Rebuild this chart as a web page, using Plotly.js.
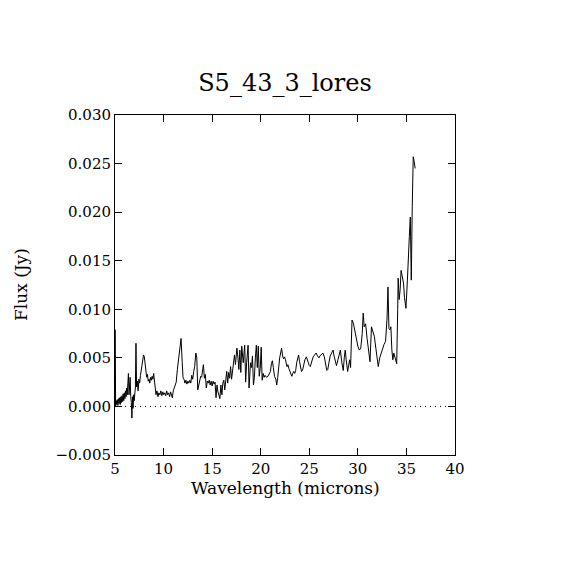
<!DOCTYPE html>
<html>
<head>
<meta charset="utf-8">
<script src="https://cdn.plot.ly/plotly-3.0.1.min.js"></script>
<style>html,body{margin:0;padding:0;background:#fff;}#chart{width:570px;height:570px;}</style>
</head>
<body>
<div id="chart"></div>
<script>
const wavelength = [
5.03,5.06,5.12,5.18,5.24,5.30,5.36,5.42,5.48,5.54,5.60,5.66,5.72,5.78,5.84,5.90,5.96,6.02,6.08,6.14,
6.20,6.26,6.32,6.38,6.44,6.50,6.56,6.62,6.68,6.74,6.80,6.86,6.92,6.98,7.04,7.10,7.16,7.22,7.30,7.38,
7.46,7.54,7.62,7.70,7.78,7.86,7.94,8.02,8.10,8.18,8.26,8.34,8.42,8.50,8.58,8.66,8.74,8.82,8.90,8.98,
9.06,9.14,9.22,9.32,9.42,9.52,9.62,9.72,9.82,9.92,10.02,10.12,10.22,10.32,10.42,10.52,10.62,10.72,10.82,10.90,
11.00,11.10,11.20,11.30,11.42,11.55,11.68,11.80,11.92,12.00,12.10,12.20,12.30,12.40,12.50,12.60,12.70,12.80,12.90,13.00,
13.10,13.20,13.32,13.42,13.52,13.62,13.72,13.82,13.92,14.02,14.10,14.20,14.30,14.40,14.50,14.60,14.70,14.80,14.90,15.00,
15.10,15.20,15.30,15.40,15.50,15.60,15.70,15.80,15.90,16.00,16.10,16.20,16.30,16.40,16.50,16.60,16.70,16.80,16.90,17.00,
17.15,17.30,17.40,17.55,17.65,17.75,17.85,17.95,18.05,18.20,18.35,18.45,18.55,18.70,18.80,18.95,19.05,19.15,19.25,19.35,
19.45,19.55,19.65,19.75,19.85,19.95,20.05,20.15,20.25,20.35,20.45,20.60,20.75,20.90,21.00,21.10,21.20,21.30,21.42,21.55,
21.65,21.75,21.85,21.95,22.05,22.15,22.25,22.35,22.45,22.55,22.70,22.80,22.90,23.00,23.10,23.20,23.30,23.40,23.50,23.60,
23.70,23.80,23.90,24.00,24.10,24.20,24.30,24.40,24.55,24.70,24.85,25.00,25.10,25.20,25.30,25.40,25.55,25.70,25.85,26.00,
26.10,26.25,26.40,26.55,26.70,26.80,26.90,27.00,27.15,27.30,27.45,27.55,27.70,27.80,27.95,28.10,28.20,28.35,28.50,28.60,
28.70,28.80,28.95,29.05,29.15,29.25,29.40,29.55,29.70,29.85,30.00,30.15,30.30,30.45,30.55,30.65,30.80,30.95,31.10,31.25,
31.40,31.55,31.70,31.85,32.00,32.10,32.25,32.40,32.55,32.70,32.85,33.00,33.10,33.20,33.30,33.40,33.50,33.60,33.70,33.85,
34.00,34.10,34.15,34.25,34.35,34.45,34.55,34.70,34.80,34.95,35.10,35.20,35.30,35.40,35.45,35.50,35.60,35.70,35.80,35.90
];
const flux = [
0.0079,0.0000,0.0006,0.0002,0.0007,0.0001,0.0008,0.0003,0.0009,0.0002,0.0010,0.0004,0.0011,0.0005,0.0013,0.0006,0.0014,0.0008,0.0016,0.0010,
0.0019,0.0012,0.0022,0.0034,0.0012,0.0024,0.0030,0.0010,0.0004,-0.0012,0.0010,-0.0002,0.0012,0.0006,0.0015,0.0020,0.0065,0.0020,0.0026,0.0016,
0.0028,0.0024,0.0032,0.0038,0.0046,0.0050,0.0053,0.0051,0.0042,0.0036,0.0030,0.0033,0.0026,0.0028,0.0024,0.0030,0.0027,0.0031,0.0028,0.0034,
0.0026,0.0015,0.0012,0.0016,0.0010,0.0014,0.0012,0.0016,0.0011,0.0015,0.0012,0.0014,0.0011,0.0016,0.0012,0.0014,0.0010,0.0015,0.0012,0.0009,
0.0016,0.0020,0.0024,0.0025,0.0038,0.0050,0.0065,0.0070,0.0045,0.0030,0.0028,0.0024,0.0027,0.0023,0.0026,0.0024,0.0027,0.0024,0.0032,0.0028,
0.0036,0.0041,0.0055,0.0050,0.0017,0.0022,0.0025,0.0031,0.0030,0.0040,0.0043,0.0029,0.0033,0.0019,0.0026,0.0024,0.0027,0.0022,0.0026,0.0021,
0.0026,0.0023,0.0025,0.0009,0.0022,0.0015,0.0011,0.0008,0.0022,0.0012,0.0024,0.0027,0.0017,0.0030,0.0036,0.0024,0.0035,0.0029,0.0041,0.0028,
0.0039,0.0053,0.0043,0.0060,0.0051,0.0038,0.0058,0.0035,0.0062,0.0045,0.0063,0.0025,0.0045,0.0063,0.0019,0.0045,0.0040,0.0052,0.0022,0.0030,
0.0050,0.0063,0.0040,0.0062,0.0031,0.0039,0.0061,0.0027,0.0034,0.0030,0.0032,0.0030,0.0031,0.0034,0.0036,0.0044,0.0047,0.0040,0.0031,0.0028,
0.0022,0.0030,0.0044,0.0050,0.0055,0.0060,0.0052,0.0049,0.0051,0.0048,0.0041,0.0043,0.0039,0.0036,0.0034,0.0031,0.0034,0.0036,0.0034,0.0037,
0.0045,0.0050,0.0053,0.0046,0.0040,0.0036,0.0037,0.0043,0.0048,0.0051,0.0045,0.0042,0.0041,0.0045,0.0049,0.0051,0.0053,0.0055,0.0052,0.0050,
0.0052,0.0054,0.0055,0.0051,0.0040,0.0037,0.0038,0.0044,0.0052,0.0055,0.0058,0.0052,0.0046,0.0042,0.0048,0.0055,0.0058,0.0045,0.0037,0.0050,
0.0058,0.0048,0.0036,0.0042,0.0048,0.0040,0.0089,0.0085,0.0078,0.0068,0.0062,0.0058,0.0060,0.0075,0.0096,0.0082,0.0085,0.0070,0.0058,0.0046,
0.0082,0.0078,0.0072,0.0060,0.0048,0.0041,0.0050,0.0055,0.0060,0.0064,0.0067,0.0090,0.0123,0.0080,0.0079,0.0082,0.0058,0.0048,0.0055,0.0050,
0.0044,0.0100,0.0132,0.0110,0.0120,0.0140,0.0135,0.0127,0.0112,0.0101,0.0130,0.0147,0.0175,0.0195,0.0164,0.0130,0.0206,0.0257,0.0252,0.0245
];
const chartTitle = "S5_43_3_lores";
const xTitle = "Wavelength (microns)";
const yTitle = "Flux (Jy)";

const fontFam = "DejaVu Serif, serif";
const trace = {
  x: wavelength, y: flux, type: "scatter", mode: "lines",
  line: {color: "#000", width: 1}, hoverinfo: "skip", showlegend: false
};
const layout = {
  width: 570, height: 570,
  margin: {l: 115, r: 115, t: 115, b: 115},
  paper_bgcolor: "#fff", plot_bgcolor: "#fff",
  font: {family: fontFam, color: "#000", size: 15},
  title: {text: chartTitle, font: {family: fontFam, size: 24, color: "#000"},
          x: 0.5, xanchor: "center", y: 1 - 83/570, yanchor: "middle", yref: "container"},
  xaxis: {
    range: [5, 40], dtick: 5, tick0: 5, showgrid: false, zeroline: false,
    showline: true, linecolor: "#000", linewidth: 1, mirror: "ticks",
    ticks: "inside", ticklen: 7, tickcolor: "#000", tickwidth: 1,
    tickfont: {family: fontFam, size: 15, color: "#000"}
  },
  yaxis: {
    range: [-0.005, 0.030], dtick: 0.005, tick0: 0, tickformat: ".3f",
    showgrid: false, zeroline: false,
    showline: true, linecolor: "#000", linewidth: 1, mirror: "ticks",
    ticks: "inside", ticklen: 7, tickcolor: "#000", tickwidth: 1,
    tickfont: {family: fontFam, size: 15, color: "#000"}
  },
  annotations: [
    {text: xTitle, xref: "paper", yref: "paper", x: 0.5, y: (455 - 488) / 340,
     xanchor: "center", yanchor: "middle", showarrow: false,
     font: {family: fontFam, size: 17, color: "#000"}},
    {text: yTitle, xref: "paper", yref: "paper", x: (21 - 115) / 340, y: 0.5,
     xanchor: "center", yanchor: "middle", showarrow: false, textangle: -90,
     font: {family: fontFam, size: 17, color: "#000"}}
  ],
  shapes: [{type: "line", xref: "x", yref: "y", x0: 5, x1: 40, y0: 0, y1: 0,
            line: {color: "#000", width: 1, dash: "1px,4px"}}]
};
Plotly.newPlot("chart", [trace], layout, {displayModeBar: false, staticPlot: true});
</script>
</body>
</html>
